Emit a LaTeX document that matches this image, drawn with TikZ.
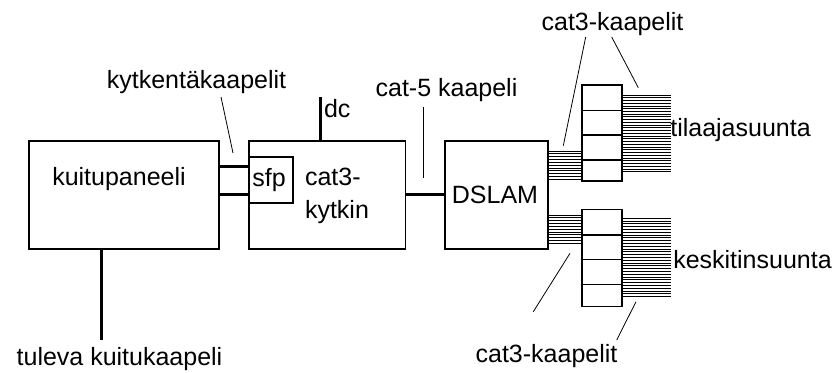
\documentclass[tikz,border=0pt]{standalone}
\usepackage{fontspec}
\setmainfont{Liberation Sans}
\usetikzlibrary{calc}
\begin{document}
\begin{tikzpicture}[x=1pt,y=-1pt,
  box/.style={draw,line width=1.3pt,inner sep=0pt,outer sep=0pt},
  lbl/.style={inner sep=0pt,outer sep=0pt,anchor=base,font=\fontsize{25}{30}\selectfont},
  thick cable/.style={line width=3pt},
  cable/.style={line width=0.9pt},
  leader/.style={line width=0.8pt}]
\useasboundingbox (0,0) rectangle (840,372);
% boxes
\node[box,minimum width=190pt,minimum height=108pt] (kp) at (124,195) {};
\node[box,minimum width=156.5pt,minimum height=108pt] (sw) at (327.25,195) {};
\node[box,minimum width=44pt,minimum height=46pt] (sfp) at (271,180) {};
\node[box,minimum width=103pt,minimum height=108pt] (dslam) at (496.5,195) {};
\node[box,minimum width=40pt,minimum height=96pt] (pu) at (602,133) {};
\node[box,minimum width=40pt,minimum height=97pt] (pl) at (602,257.75) {};
% panel dividers
\foreach \y in {110.5,135,160} \draw[line width=1.3pt] (pu.west |- 0,\y) -- (pu.east |- 0,\y);
\foreach \y in {235,259.3,284.3} \draw[line width=1.3pt] (pl.west |- 0,\y) -- (pl.east |- 0,\y);
% texts
\node[lbl] (tkp) at (119,185) {kuitupaneeli};
\node[lbl,anchor=base west] (tsw1) at (305,185) {cat3-};
\node[lbl,anchor=base west] (tsw2) at (305,218) {kytkin};
\node[lbl] (tsfp) at (269,186) {sfp};
\node[lbl,anchor=base west] (tdc) at (324,117) {dc};
\node[lbl] (tdslam) at (495,203) {DSLAM};
\node[lbl] (tkyt) at (196.5,88) {kytkentäkaapelit};
\node[lbl] (tcat5) at (446.5,96) {cat-5 kaapeli};
\node[lbl] (tcatu) at (612.5,30) {cat3-kaapelit};
\node[lbl] (ttil) at (740.5,136) {tilaajasuunta};
\node[lbl] (tkes) at (752.5,268) {keskitinsuunta};
\node[lbl] (tcatl) at (546.5,362) {cat3-kaapelit};
\node[lbl] (ttul) at (119.5,365) {tuleva kuitukaapeli};
% free ends
\coordinate (dctop) at (320,97);
\coordinate (fibend) at (101.7,340);
\coordinate (k1) at (221,97);   \coordinate (k2) at (233,153);
\coordinate (c1) at (423,107);  \coordinate (c2) at (423,178);
\coordinate (u1) at (585.7,37); \coordinate (u2) at (563.3,145.7);
\coordinate (u3) at (611.7,37); \coordinate (u4) at (638.3,87.7);
\coordinate (l1) at (570,253.3); \coordinate (l2) at (533.3,311.7);
\coordinate (l3) at (636,301.7); \coordinate (l4) at (616.7,340);
% thick connectors
\draw[thick cable] (kp.east |- 0,166) -- (sw.west |- 0,166);
\draw[thick cable] (kp.east |- 0,194) -- (sw.west |- 0,194);
\draw[thick cable] (sw.east |- 0,194) -- (dslam.west |- 0,194);
\draw[thick cable] (dctop) -- (sw.north -| dctop);
\draw[thick cable] (kp.south -| fibend) -- (fibend);
% cat3 cables DSLAM -> panels
\foreach \i [evaluate=\i as \yy using 151+2.83*\i] in {0,...,10}
  \draw[cable] (dslam.east |- 0,\yy) -- (pu.west |- 0,\yy);
\foreach \i [evaluate=\i as \yy using 215+2.83*\i] in {0,...,10}
  \draw[cable] (dslam.east |- 0,\yy) -- (pl.west |- 0,\yy);
% outgoing cables
\foreach \i [evaluate=\i as \yy using 95+2.74*\i] in {0,...,28}
  \draw[cable] (pu.east |- 0,\yy) -- (670.7,\yy);
\foreach \i [evaluate=\i as \yy using 218.3+2.8*\i] in {0,...,28}
  \draw[cable] (pl.east |- 0,\yy) -- (670.7,\yy);
% leaders
\draw[leader] (k1) -- (k2);
\draw[leader] (c1) -- (c2);
\draw[leader] (u1) -- (u2);
\draw[leader] (u3) -- (u4);
\draw[leader] (l1) -- (l2);
\draw[leader] (l3) -- (l4);
\end{tikzpicture}
\end{document}
